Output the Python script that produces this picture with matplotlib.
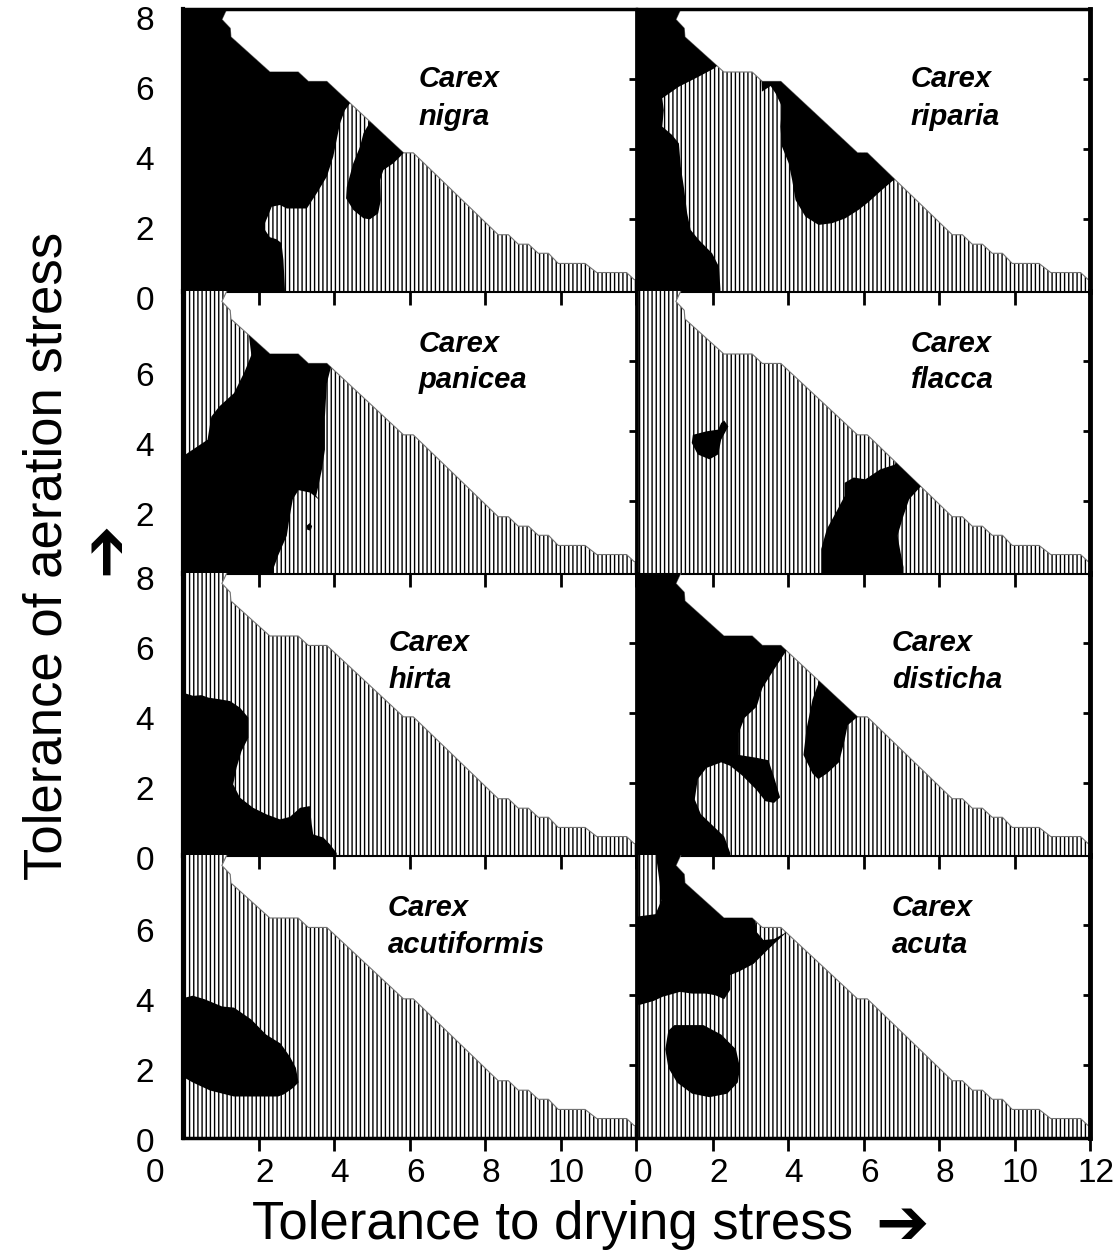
import matplotlib.pyplot as plt
import matplotlib.transforms as mtransforms
from matplotlib.patches import Polygon

# =========================================================
# Carex tolerance maps (drying stress vs aeration stress)
# =========================================================

plt.rcParams['font.family'] = ['Liberation Sans', 'DejaVu Sans']
plt.rcParams['hatch.linewidth'] = 1.0

# ===== data =====
SPECIES = ["nigra", "riparia", "panicea", "flacca",
           "hirta", "disticha", "acutiformis", "acuta"]

# shared envelope (hatched area), same in every panel
ENVELOPE = [(0, -0.2), (0, 8.0), (1.16, 8.0), (1.03, 7.7), (1.25, 7.45),
            (1.27, 7.2), (2.3, 6.2), (3.05, 6.2), (3.32, 5.93), (3.81, 5.93),
            (5.84, 3.89), (6.1, 3.89), (8.35, 1.55), (8.62, 1.55), (8.88, 1.28),
            (9.15, 1.28), (9.41, 1.02), (9.68, 1.02), (9.94, 0.73), (10.65, 0.73),
            (10.96, 0.47), (11.75, 0.47), (11.95, 0.27), (12.0, 0.27), (12.0, -0.2)]

nigra_blob_1 = [(-0.5, -0.5), (2.70, -0.5), (2.70, 0.0), (2.66, 0.83), (2.61, 1.31),
                (2.48, 1.42), (2.30, 1.48), (2.17, 1.69), (2.17, 1.88), (2.26, 2.11),
                (2.35, 2.35), (2.57, 2.40), (2.75, 2.30), (3.28, 2.30), (3.54, 2.73),
                (3.81, 3.21), (3.98, 3.78), (4.07, 4.26), (4.16, 4.73), (4.29, 5.11),
                (4.42, 5.30), (4.5, 5.6), (4.5, 8.5), (-0.5, 8.5)]
nigra_blob_2 = [(4.91, 4.69), (4.78, 4.45), (4.69, 4.07), (4.51, 3.59), (4.34, 2.92),
                (4.32, 2.59), (4.51, 2.26), (4.78, 2.02), (4.95, 1.99), (5.17, 2.16),
                (5.24, 2.54), (5.22, 3.11), (5.31, 3.40), (5.57, 3.59), (5.75, 3.78),
                (5.9, 3.95), (6.3, 4.6), (5.2, 5.6)]

riparia_blob_1 = [(-0.5, -0.5), (2.21, -0.5), (2.21, 0.0), (2.17, 0.64), (1.99, 1.02),
                  (1.64, 1.40), (1.42, 1.69), (1.33, 2.16), (1.24, 2.92), (1.16, 3.49),
                  (1.11, 4.16), (0.93, 4.40), (0.67, 4.64), (0.71, 5.11), (0.67, 5.45),
                  (1.11, 5.78), (1.64, 6.07), (2.04, 6.30), (2.2, 6.45), (2.2, 8.5),
                  (-0.5, 8.5)]
riparia_blob_2 = [(3.30, 5.93), (3.31, 5.64), (3.54, 5.80), (3.67, 5.59), (3.84, 5.21),
                  (3.80, 4.64), (3.84, 4.07), (4.02, 3.59), (4.11, 3.11), (4.20, 2.54),
                  (4.46, 2.07), (4.81, 1.83), (5.17, 1.88), (5.52, 2.02), (5.87, 2.26),
                  (6.14, 2.49), (6.49, 2.83), (6.75, 3.07), (7.4, 3.6), (4.0, 7.0),
                  (3.30, 6.5)]

panicea_blob_1 = [(-0.5, -0.5), (2.41, -0.5), (2.41, 0.11), (2.52, 0.44), (2.75, 1.01),
                  (2.83, 1.58), (2.91, 2.05), (3.06, 2.31), (3.37, 2.24), (3.61, 2.03),
                  (3.53, 2.15), (3.68, 2.90), (3.76, 3.47), (3.76, 4.41), (3.81, 5.36),
                  (3.92, 5.83), (4.3, 5.9), (4.3, 8.5), (1.74, 8.5), (1.74, 6.78),
                  (1.81, 6.17), (1.63, 5.69), (1.35, 5.08), (0.96, 4.70), (0.75, 4.41),
                  (0.65, 3.75), (0.33, 3.52), (0.0, 3.28), (-0.5, 3.28)]
panicea_blob_2 = [(3.28, 1.30), (3.36, 1.37), (3.42, 1.28), (3.38, 1.15), (3.29, 1.18)]

flacca_blob_1 = [(2.31, 4.30), (2.42, 4.13), (2.23, 3.75), (2.15, 3.33), (1.92, 3.19),
                 (1.61, 3.33), (1.45, 3.66), (1.48, 3.89), (1.84, 3.99), (2.15, 4.04),
                 (2.23, 4.23)]
flacca_blob_2 = [(4.88, -0.5), (4.88, 0.63), (5.03, 1.20), (5.27, 1.67), (5.50, 2.14),
                 (5.50, 2.52), (5.74, 2.67), (6.05, 2.62), (6.44, 2.90), (6.83, 3.04),
                 (7.0, 3.6), (7.9, 2.7), (7.53, 2.43), (7.21, 2.05), (7.06, 1.58),
                 (6.90, 1.01), (6.98, 0.54), (7.06, 0.11), (7.06, -0.5)]

hirta_blob_1 = [(-0.5, -0.5), (4.07, -0.5), (4.07, 0.0), (3.89, 0.25), (3.72, 0.44),
                (3.45, 0.53), (3.41, 0.82), (3.36, 1.34), (3.10, 1.29), (2.83, 1.03),
                (2.57, 0.96), (2.22, 1.10), (1.86, 1.29), (1.51, 1.58), (1.33, 1.96),
                (1.42, 2.44), (1.55, 2.91), (1.73, 3.29), (1.73, 3.87), (1.51, 4.15),
                (1.25, 4.34), (0.98, 4.39), (0.67, 4.44), (0.49, 4.51), (0.27, 4.49),
                (0.0, 4.58), (-0.5, 4.58)]

disticha_blob_1 = [(-0.5, -0.5), (2.47, -0.5), (2.47, 0.0), (2.31, 0.47), (2.0, 0.79),
                   (1.69, 1.11), (1.53, 1.53), (1.61, 2.11), (1.84, 2.43), (2.23, 2.59),
                   (2.47, 2.49), (2.78, 2.22), (3.17, 1.80), (3.40, 1.48), (3.63, 1.43),
                   (3.79, 1.59), (3.63, 2.17), (3.48, 2.65), (3.17, 2.72), (2.70, 2.80),
                   (2.70, 3.44), (2.85, 3.86), (3.17, 4.18), (3.32, 4.71), (3.63, 5.24),
                   (3.94, 5.75), (4.3, 6.2), (4.3, 8.5), (-0.5, 8.5)]
disticha_blob_2 = [(4.80, 4.83), (4.65, 4.39), (4.49, 3.54), (4.41, 2.80), (4.65, 2.27),
                   (4.80, 2.11), (5.03, 2.27), (5.35, 2.59), (5.50, 3.22), (5.58, 3.65),
                   (5.81, 3.86), (5.95, 3.95), (6.3, 4.5), (5.0, 5.6)]

acutiformis_blob_1 = [(-0.5, 3.91), (0.0, 3.91), (0.26, 3.98), (0.57, 3.88), (1.04, 3.67),
                      (1.35, 3.64), (1.81, 3.30), (2.20, 2.87), (2.59, 2.61), (2.83, 2.24),
                      (2.99, 1.92), (3.06, 1.50), (2.91, 1.34), (2.67, 1.16), (2.52, 1.10),
                      (1.35, 1.10), (0.72, 1.27), (0.26, 1.50), (0.0, 1.66), (-0.5, 1.66)]

acuta_blob_1 = [(0.5, 8.5), (0.52, 7.85), (0.60, 7.21), (0.64, 6.69), (0.49, 6.31),
                (0.0, 6.24), (-0.5, 6.24), (-0.5, 3.72), (0.08, 3.72), (0.44, 3.83),
                (0.68, 3.95), (1.14, 4.09), (1.46, 4.04), (1.84, 4.04), (2.08, 3.99),
                (2.31, 3.88), (2.47, 4.15), (2.47, 4.57), (2.70, 4.67), (3.09, 4.89),
                (3.48, 5.31), (3.97, 5.80), (3.63, 5.60), (3.35, 5.57), (3.17, 5.80),
                (3.12, 6.3), (3.12, 8.5)]
acuta_blob_2 = [(0.99, 3.14), (1.76, 3.14), (2.23, 2.87), (2.62, 2.45), (2.73, 1.92),
                (2.67, 1.50), (2.39, 1.18), (1.92, 1.08), (1.46, 1.18), (1.06, 1.50),
                (0.83, 1.92), (0.75, 2.45), (0.83, 2.98)]

BLOBS = {
    "nigra": [nigra_blob_1, nigra_blob_2],
    "riparia": [riparia_blob_1, riparia_blob_2],
    "panicea": [panicea_blob_1, panicea_blob_2],
    "flacca": [flacca_blob_1, flacca_blob_2],
    "hirta": [hirta_blob_1],
    "disticha": [disticha_blob_1, disticha_blob_2],
    "acutiformis": [acutiformis_blob_1],
    "acuta": [acuta_blob_1, acuta_blob_2],
}

# label placement (x of left edge, baseline of "Carex", baseline of species)
LABEL_X = [6.23, 7.25, 6.23, 7.25, 5.44, 6.75, 5.43, 6.75]
LABEL_Y1 = [5.77, 5.77, 6.26, 6.26, 5.77, 5.77, 6.26, 6.26]
LABEL_Y2 = [4.69, 4.69, 5.22, 5.22, 4.72, 4.72, 5.20, 5.20]

# y tick labels shown per row, and their vertical shift
Y_LABELS = [[8, 6, 4, 2, 0], [6, 4, 2], [8, 6, 4, 2, 0], [6, 4, 2, 0]]
Y_LABEL_SHIFT = [-0.37, -0.46, -0.25, -0.25]

X_LABELS_LEFT = [0, 2, 4, 6, 8, 10]
X_LABELS_RIGHT = [0, 2, 4, 6, 8, 10, 12]

# =========================================================
# layout (pixels)
# =========================================================
FIG_W, FIG_H = 1120, 1256
COL_LEFT = [183, 637]
PANEL_W = 453
ROW_TOP = [9, 291, 573, 855]
PANEL_H = 283

fig = plt.figure(figsize=(FIG_W / 100, FIG_H / 100), dpi=100)
fig.patch.set_facecolor("white")

for i, sp in enumerate(SPECIES):
    r, c = divmod(i, 2)
    ax = fig.add_axes([COL_LEFT[c] / FIG_W,
                       1 - (ROW_TOP[r] + PANEL_H) / FIG_H,
                       PANEL_W / FIG_W, PANEL_H / FIG_H])
    ax.set_xlim(0, 12)
    ax.set_ylim(-0.086, 8)
    ax.patch.set_alpha(0)

    env = Polygon(ENVELOPE, closed=True, facecolor="white", edgecolor="black",
                  linewidth=0, hatch="||||", zorder=1)
    ax.add_patch(env)

    ex = [p[0] for p in ENVELOPE[2:-1]]
    ey = [p[1] for p in ENVELOPE[2:-1]]
    ax.plot(ex, ey, color="0.45", lw=0.8, zorder=1.5)

    for blob in BLOBS[sp]:
        b = Polygon(blob, closed=True, facecolor="black", edgecolor="none", zorder=2)
        ax.add_patch(b)
        b.set_clip_path(env)

    ax.text(LABEL_X[i], LABEL_Y1[i], "Carex", fontsize=21, fontweight="bold",
            fontstyle="italic", va="baseline", ha="left", zorder=4)
    ax.text(LABEL_X[i], LABEL_Y2[i], sp, fontsize=21, fontweight="bold",
            fontstyle="italic", va="baseline", ha="left", zorder=4)

    # ticks
    ax.set_xticks([2, 4, 6, 8, 10, 12])
    ax.set_yticks([2, 4, 6])
    ax.yaxis.tick_right()
    ax.tick_params(axis="x", direction="out", length=9, width=2,
                   labelbottom=False)
    ax.tick_params(axis="y", direction="in", length=5, width=2,
                   labelright=False, labelleft=False)

    # spines
    ax.spines["left"].set_linewidth(3 if c == 0 else 2)
    ax.spines["right"].set_linewidth(3.5 if c == 1 else 2)
    ax.spines["top"].set_visible(r == 0)
    ax.spines["top"].set_linewidth(2.5)
    ax.spines["bottom"].set_linewidth(2.5 if r == 3 else 1.5)

    # y tick labels (left column only)
    if c == 0:
        trans = mtransforms.blended_transform_factory(ax.transAxes, ax.transData)
        for v in Y_LABELS[r]:
            ax.text(-0.084, v + Y_LABEL_SHIFT[r], str(v), transform=trans,
                    ha="center", va="center", fontsize=24, clip_on=False)

    # x tick labels (bottom row only)
    if r == 3:
        trans = mtransforms.blended_transform_factory(ax.transData, ax.transAxes)
        labels = X_LABELS_LEFT if c == 0 else X_LABELS_RIGHT
        for v in labels:
            xpos = v + 0.15
            if c == 0 and v == 0:
                xpos = -0.74
            ax.text(xpos, -0.124, str(v), transform=trans, ha="center",
                    va="center", fontsize=24, clip_on=False)

# axis titles, arrows drawn as separate heavier glyphs
fig.text(252 / FIG_W, 1 - 1225 / FIG_H, "Tolerance to drying stress",
         ha="left", va="center", fontsize=38)
fig.text(902 / FIG_W, 1 - 1226 / FIG_H, "\u2794", family="DejaVu Sans",
         ha="center", va="center", fontsize=46)
fig.text(48 / FIG_W, 1 - 556 / FIG_H, "Tolerance of aeration stress",
         rotation=90, ha="center", va="center", fontsize=38)
fig.text(106 / FIG_W, 1 - 548 / FIG_H, "\u2794", family="DejaVu Sans",
         rotation=90, ha="center", va="center", fontsize=46)

fig.savefig("out.png", dpi=100)
